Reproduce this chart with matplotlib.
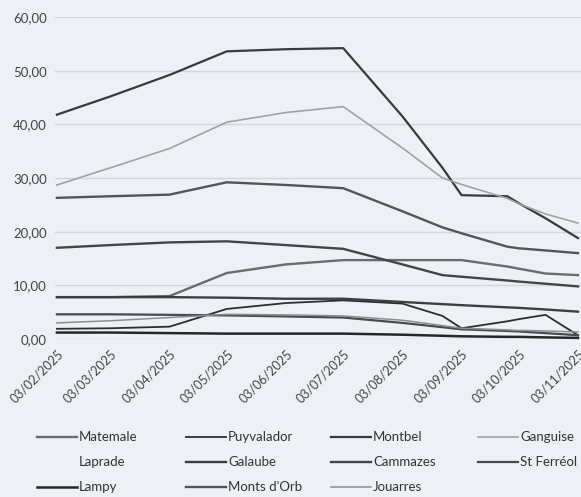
import numpy as np
import matplotlib.pyplot as plt
import matplotlib.dates as mdates
from matplotlib.lines import Line2D

plt.rcParams['font.family'] = ['Lato', 'DejaVu Sans']

# dates des releves
dates = np.array(['2025-02-03', '2025-03-03', '2025-04-03', '2025-05-03', '2025-06-03',
                  '2025-07-03', '2025-08-03', '2025-08-24', '2025-09-03', '2025-09-27',
                  '2025-10-03', '2025-10-17', '2025-11-03'], dtype='datetime64[D]')

# volumes (hm3)
montbel = [41.8, 45.2, 49.2, 53.6, 54.0, 54.2, 41.5, 31.9, 26.8, 26.6, 25.3, 22.5, 18.8]
ganguise = [28.7, 31.9, 35.5, 40.4, 42.2, 43.3, 35.6, 30.0, 28.8, 26.2, 25.2, 23.3, 21.6]
monts_dorb = [26.3, 26.6, 26.9, 29.2, 28.7, 28.1, 23.8, 20.8, 19.7, 17.2, 16.9, 16.5, 16.0]
cammazes = [17.0, 17.5, 18.0, 18.2, 17.5, 16.8, 13.9, 11.9, 11.6, 10.9, 10.7, 10.3, 9.8]
matemale = [7.8, 7.8, 8.0, 12.3, 13.9, 14.7, 14.7, 14.7, 14.7, 13.5, 13.1, 12.2, 11.9]
galaube = [7.8, 7.8, 7.8, 7.7, 7.5, 7.5, 6.9, 6.5, 6.3, 5.9, 5.8, 5.5, 5.1]
puyvalador = [1.9, 2.0, 2.3, 5.6, 6.7, 7.2, 6.6, 4.3, 2.0, 3.3, 3.7, 4.5, 0.7]
st_ferreol = [4.6, 4.6, 4.5, 4.4, 4.2, 4.0, 3.0, 2.2, 1.8, 1.5, 1.4, 1.1, 0.7]
jouarres = [3.0, 3.4, 4.0, 4.6, 4.5, 4.3, 3.5, 2.5, 2.0, 1.7, 1.6, 1.5, 1.3]
lampy = [1.2, 1.2, 1.1, 1.0, 1.0, 1.0, 0.8, 0.6, 0.5, 0.4, 0.4, 0.3, 0.2]
laprade = [np.nan] * len(dates)  # pas de valeurs visibles

# nom, valeurs, couleur, epaisseur
series = [
    ('Matemale', matemale, '#6b6b6b', 1.7),
    ('Puyvalador', puyvalador, '#2e2e2e', 1.3),
    ('Montbel', montbel, '#3a3a3a', 1.6),
    ('Ganguise', ganguise, '#a2a2a2', 1.2),
    ('Laprade', laprade, 'none', 1.0),
    ('Galaube', galaube, '#3e3e3e', 1.7),
    ('Cammazes', cammazes, '#444444', 1.7),
    ('St Ferréol', st_ferreol, '#4a4a4a', 1.6),
    ('Lampy', lampy, '#262626', 1.8),
    ("Monts d'Orb", monts_dorb, '#555555', 1.7),
    ('Jouarres', jouarres, '#8e8e8e', 1.1),
]

W, H = 581, 497
bg = '#edf0f5'
fig = plt.figure(figsize=(W / 100, H / 100), dpi=100, facecolor=bg)
ax = fig.add_axes([55 / W, (H - 339) / H, 526 / W, 322 / H], facecolor=bg)

for name, vals, col, lw in series:
    ax.plot(dates, vals, color=col, lw=lw, clip_on=False, solid_joinstyle='round')

ax.set_ylim(0, 60)
ax.set_xlim(np.datetime64('2025-02-02'), np.datetime64('2025-11-04T14:00'))
ax.set_yticks(np.arange(0, 61, 10))
ax.set_yticklabels([f'{v:.2f}'.replace('.', ',') for v in np.arange(0, 61, 10)],
                   fontsize=9.5, color='#444444')
ax.yaxis.grid(True, color='#d3d6dd', lw=1.0)
ax.set_axisbelow(True)

ax.xaxis.set_major_locator(mdates.MonthLocator(bymonthday=3))
ax.xaxis.set_major_formatter(mdates.DateFormatter('%d/%m/%Y'))
for lab in ax.get_xticklabels():
    lab.set_rotation(45)
    lab.set_ha('right')
    lab.set_va('top')
    lab.set_rotation_mode('anchor')
    lab.set_fontsize(9)
    lab.set_color('#444444')

ax.tick_params(length=0, pad=6)
for s in ax.spines.values():
    s.set_visible(False)

# legende en 3 lignes x 4 colonnes
col_x = [37, 186, 331, 478]
row_y = [437, 462, 487]
for i, (name, vals, col, lw) in enumerate(series):
    x0 = col_x[i % 4]
    y0 = row_y[i // 4]
    fig.add_artist(Line2D([x0 / W, (x0 + 40) / W], [1 - y0 / H, 1 - y0 / H],
                          color=col, lw=lw, transform=fig.transFigure))
    fig.text((x0 + 42) / W, 1 - y0 / H, name, fontsize=9.5, color='#333333',
             va='center', ha='left')

fig.savefig('out.png', dpi=100, facecolor=bg)
